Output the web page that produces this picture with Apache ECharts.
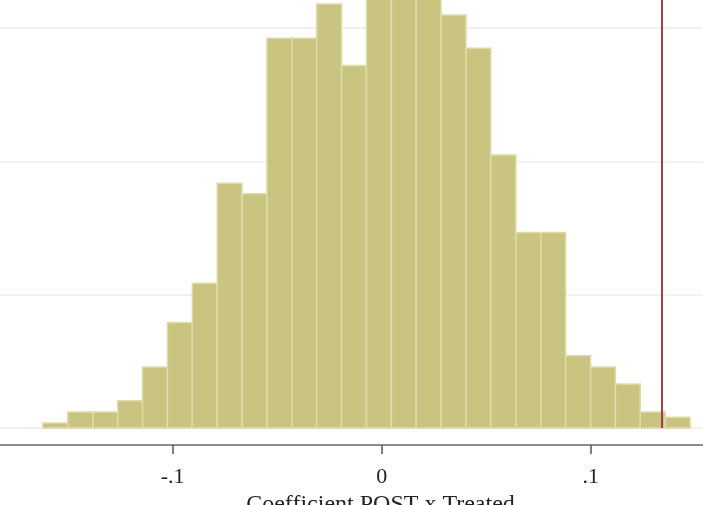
<!DOCTYPE html>
<html>
<head>
<meta charset="utf-8">
<script src="https://cdn.jsdelivr.net/npm/echarts@6/dist/echarts.min.js"></script>
<style>
  html, body { margin: 0; padding: 0; background: #fff; }
  #main { width: 703px; height: 505px; }
</style>
</head>
<body>
<div id="main"></div>
<script>
// bin edges of the histogram (27 edges -> 26 bins)
var binEdges = [-0.1621, -0.1502, -0.1382, -0.1263, -0.1144, -0.1025, -0.0906, -0.0787, -0.0668,
  -0.0549, -0.0430, -0.0311, -0.0192, -0.0073, 0.0046, 0.0165, 0.0284, 0.0403, 0.0522,
  0.0642, 0.0761, 0.0880, 0.0999, 0.1118, 0.1237, 0.1356, 0.1475]
// density of each bin
var density = [0.19, 0.6, 0.6, 1.02, 2.29, 3.96, 5.43, 9.18, 8.78, 14.62, 14.62, 15.9, 13.59,
  16.8, 17.2, 16.5, 15.49, 14.24, 10.24, 7.33, 7.33, 2.71, 2.29, 1.65, 0.6, 0.4]
// actual estimate (red line)
var actualCoef = 0.1339
var xTicks = [-0.1, 0, 0.1]
var yGrid = [0, 5, 10, 15]
var axisTitle = 'Coefficient POST x Treated'

var bins = []
for (var i = 0; i < density.length; i++) {
  bins.push([binEdges[i], binEdges[i + 1], density[i]])
}

// horizontal grid lines (drawn under the bars)
var gridLines = []
for (var j = 0; j < yGrid.length; j++) {
  gridLines.push({ yAxis: yGrid[j] })
}

var yTop = 16.05
var myChart = echarts.init(document.getElementById('main'))

myChart.setOption({
  animation: false,
  backgroundColor: '#ffffff',
  grid: {
    left: 0,
    right: 0,
    top: 0,
    bottom: 60,
    containLabel: false,
    outerBoundsMode: 'none'
  },
  xAxis: {
    type: 'value',
    // visible window of the cropped plot
    min: -0.1826,
    max: 0.1537,
    name: axisTitle,
    nameLocation: 'middle',
    nameGap: 41,
    nameTextStyle: {
      fontFamily: 'Liberation Serif',
      fontSize: 24,
      color: '#222',
      // title is centred on the full plot, which is wider than this crop
      padding: [0, 0, 0, 58]
    },
    axisLine: { onZero: false, lineStyle: { color: '#666', width: 1.5 } },
    axisTick: { length: 9, customValues: xTicks, lineStyle: { color: '#555', width: 1.5 } },
    axisLabel: {
      margin: 21,
      customValues: xTicks,
      fontFamily: 'Liberation Serif',
      fontSize: 22,
      color: '#222',
      formatter: function (v) {
        if (v === 0) return '0'
        return (v < 0 ? '-' : '') + String(Math.abs(v)).replace(/^0/, '')
      }
    },
    splitLine: { show: false }
  },
  yAxis: {
    type: 'value',
    // a gap under 0 keeps the x axis apart from the plot, as Stata does
    min: -0.637,
    max: yTop,
    show: false
  },
  series: [{
    type: 'line',
    data: [],
    z: 1,
    silent: true,
    markLine: {
      silent: true,
      z: 1,
      symbol: 'none',
      label: { show: false },
      lineStyle: { color: '#ececec', width: 1.5, type: 'solid' },
      data: gridLines
    }
  }, {
    type: 'custom',
    data: bins,
    z: 2,
    encode: { x: [0, 1], y: 2 },
    renderItem: function (params, api) {
      var p0 = api.coord([api.value(0), api.value(2)])
      var p1 = api.coord([api.value(1), 0])
      return {
        type: 'rect',
        shape: { x: p0[0], y: p0[1], width: p1[0] - p0[0], height: p1[1] - p0[1] },
        style: { fill: '#c9c47f', stroke: '#e0dcaa', lineWidth: 1.5 }
      }
    },
    markLine: {
      silent: true,
      symbol: 'none',
      label: { show: false },
      lineStyle: { color: '#a0404c', width: 2, type: 'solid' },
      data: [[{ coord: [actualCoef, 0] }, { coord: [actualCoef, yTop] }]]
    }
  }]
})
</script>
</body>
</html>
